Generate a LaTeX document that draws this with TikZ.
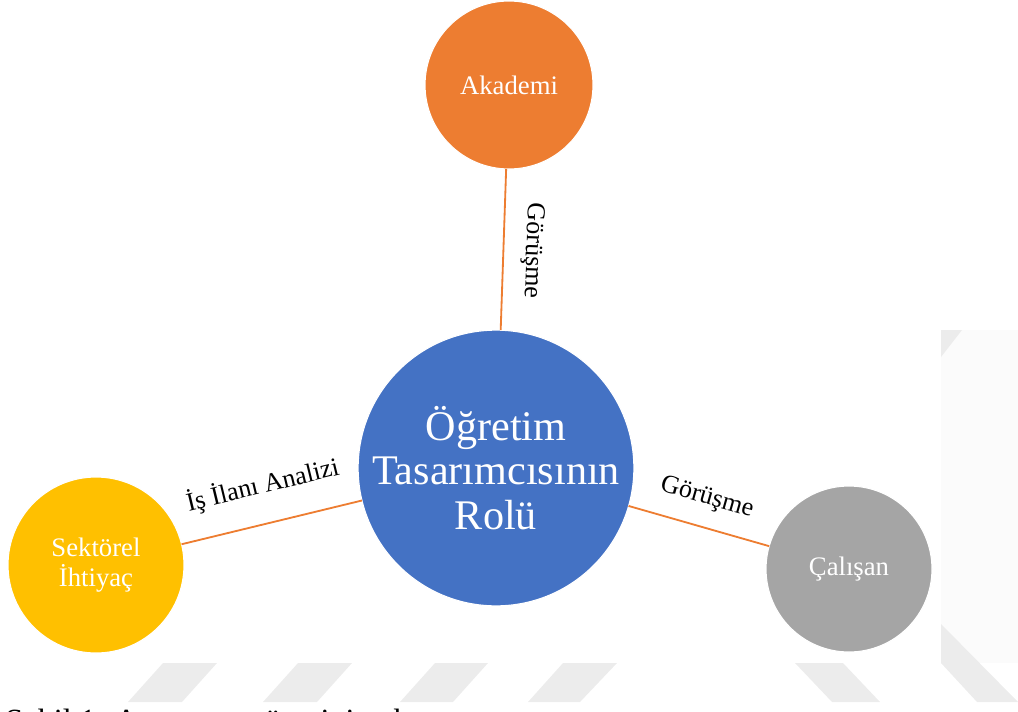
\documentclass[tikz,border=0pt]{standalone}
\usepackage{fontspec}
\setmainfont{Liberation Serif}
\usepackage{tikz}
\definecolor{orangeA}{HTML}{ED7D31}
\definecolor{blueA}{HTML}{4472C4}
\definecolor{goldA}{HTML}{FFC000}
\definecolor{greyA}{HTML}{A5A5A5}
\definecolor{wmgray}{HTML}{ECECEC}
\definecolor{wmpale}{HTML}{FBFBFB}
\newcommand{\pxu}{0.025cm}

\begin{document}
\begin{tikzpicture}[x=\pxu, y=-\pxu,
  actor/.style = {draw=white, line width=0.8pt, circle, text=white, align=center, inner sep=0pt, outer sep=0pt, font=\fontsize{19}{21.5}\selectfont},
  link/.style = {draw=orangeA, line width=1.3pt},
  lbl/.style = {sloped, inner sep=0pt, font=\fontsize{18.5}{20}\selectfont},
  wm/.style = {fill=wmgray, draw=none}]
    \useasboundingbox (0,0) rectangle (1018,711);

    % faint watermark
    \fill[wmpale] (941,330) rectangle (1018,663);
    \fill[wm] (941,330) -- (962,330) -- (941,357) -- cycle;
    \fill[wm] (941,624) -- (1018,702) -- (977,702) -- (941,663) -- cycle;
    \fill[wm] (163,663) -- (217,663) -- (182,702) -- (128,702) -- cycle;
    \fill[wm] (298,663) -- (352,663) -- (317,702) -- (263,702) -- cycle;
    \fill[wm] (435,663) -- (488,663) -- (453,702) -- (400,702) -- cycle;
    \fill[wm] (563,663) -- (617,663) -- (580,702) -- (528,702) -- cycle;
    \fill[wm] (795,663) -- (843,663) -- (880,702) -- (832,702) -- cycle;

    \node[actor, fill=blueA, minimum size=268*\pxu, font=\fontsize{30}{31.5}\selectfont] (rol) at (496,468) {Öğretim\\Tasarımcısının\\Rolü};
    \node[actor, fill=orangeA, minimum size=168*\pxu] (aka) at (509,85) {Akademi};
    \node[actor, fill=goldA, minimum size=176*\pxu] (sek) at (96,565) {Sektörel\\İhtiyaç};
    \node[actor, fill=greyA, minimum size=166*\pxu] (cal) at (849,569) {Çalışan};

    \draw[link] (aka) -- node[lbl, allow upside down, above=12pt] {Görüşme} (rol);
    \draw[link] (sek) -- node[lbl, above=17pt] {İş İlanı Analizi} (rol);
    \draw[link] (rol) -- node[lbl, above=12pt] {Görüşme} (cal);

    % caption, cut by the page edge
    \node[anchor=base west, inner sep=0pt, font=\fontsize{23}{26}\selectfont] (cap) at (5,731) {Şekil 1. Araştırma sürecinin akışı};
\end{tikzpicture}
\end{document}
